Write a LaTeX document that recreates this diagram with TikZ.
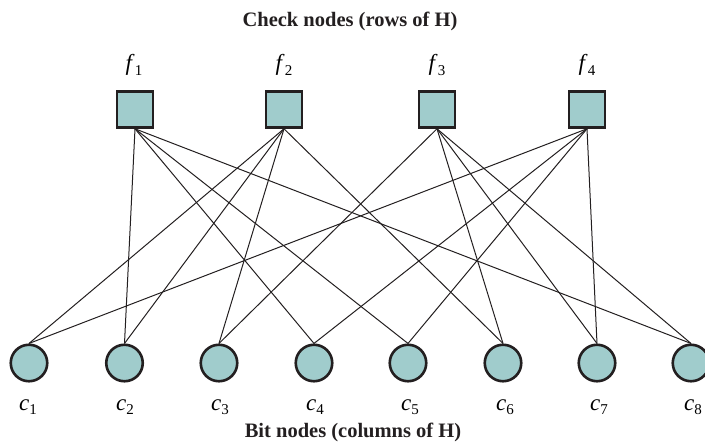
\documentclass[tikz,border=0pt]{standalone}
\usepackage{fontspec}
\setmainfont{Liberation Serif}
\usetikzlibrary{backgrounds}
\definecolor{nodefill}{RGB}{160,204,204}
\definecolor{nodeline}{RGB}{35,31,32}
\newcommand{\varlab}[2]{\fontsize{23}{26}\selectfont\textit{#1}\raisebox{-4.5pt}{\fontsize{15}{17}\selectfont #2}}
\tikzset{
  checknode/.style={draw=nodeline, fill=nodefill, line width=2.6pt, rectangle, minimum size=36pt, inner sep=0pt},
  bitnode/.style={draw=nodeline, fill=nodefill, line width=2.6pt, circle, minimum size=36.5pt, inner sep=0pt},
  edge/.style={draw=nodeline, line width=1pt},
  lab/.style={inner sep=0pt, anchor=center},
  title/.style={font=\fontsize{20.5}{24}\selectfont\bfseries, text=nodeline, inner sep=0pt}
}
\begin{document}
\begin{tikzpicture}[x=1pt,y=1pt]
\useasboundingbox (0,0) rectangle (705,442);
% check nodes
\node[checknode] (f1) at (135,332.5) {};
\node[checknode] (f2) at (284,332.5) {};
\node[checknode] (f3) at (437,332.5) {};
\node[checknode] (f4) at (587,332.5) {};
% bit nodes
\node[bitnode] (c1) at (29,79) {};
\node[bitnode] (c2) at (124.5,79) {};
\node[bitnode] (c3) at (219,79) {};
\node[bitnode] (c4) at (314,79) {};
\node[bitnode] (c5) at (408,79) {};
\node[bitnode] (c6) at (503,79) {};
\node[bitnode] (c7) at (597,79) {};
\node[bitnode] (c8) at (691,79) {};
% labels
\node[lab] (lf1) at (134,377) {\varlab{f}{1}};
\node[lab] (lf2) at (284,377) {\varlab{f}{2}};
\node[lab] (lf3) at (437,377) {\varlab{f}{3}};
\node[lab] (lf4) at (587,377) {\varlab{f}{4}};
\node[lab] (lc1) at (28,35) {\varlab{c}{1}};
\node[lab] (lc2) at (125,35) {\varlab{c}{2}};
\node[lab] (lc3) at (220,35) {\varlab{c}{3}};
\node[lab] (lc4) at (315,35) {\varlab{c}{4}};
\node[lab] (lc5) at (410,35) {\varlab{c}{5}};
\node[lab] (lc6) at (505,35) {\varlab{c}{6}};
\node[lab] (lc7) at (599,35) {\varlab{c}{7}};
\node[lab] (lc8) at (693,35) {\varlab{c}{8}};
% titles
\node[title] (top) at (350,421) {Check nodes (rows of H)};
\node[title] (bot) at (353,10) {Bit nodes (columns of H)};
% edges
\begin{scope}[on background layer]
\foreach \c in {2,4,5,8} \draw[edge] (f1.south) -- (c\c.north);
\foreach \c in {1,2,3,6} \draw[edge] (f2.south) -- (c\c.north);
\foreach \c in {3,6,7,8} \draw[edge] (f3.south) -- (c\c.north);
\foreach \c in {1,4,5,7} \draw[edge] (f4.south) -- (c\c.north);
\end{scope}
\end{tikzpicture}
\end{document}
